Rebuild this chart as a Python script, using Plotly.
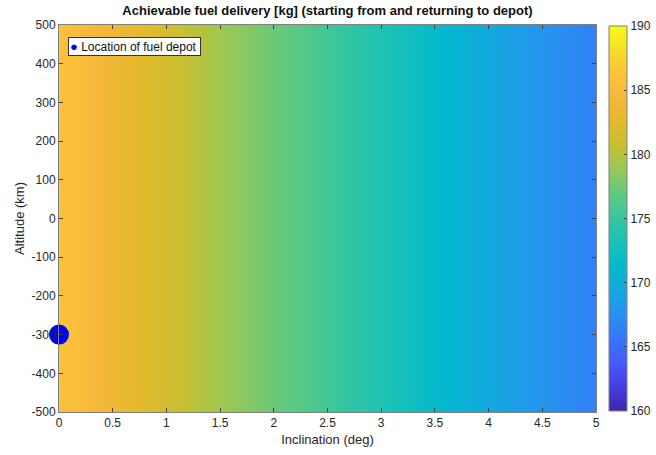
import plotly.graph_objects as go

# Data
inclination = [0, 0.25, 0.5, 0.75, 1.0, 1.25, 1.5, 1.75, 2.0, 2.25, 2.5,
               2.75, 3.0, 3.25, 3.5, 3.75, 4.0, 4.25, 4.5, 4.75, 5.0]
fuel_by_incl = [186.0, 185.0, 183.6, 182.5, 181.5, 180.3, 179.2, 178.2, 177.3, 176.4, 175.5,
                174.5, 173.5, 172.5, 171.5, 170.5, 169.5, 168.6, 167.7, 167.0, 166.4]
altitude = [-500, -250, 0, 250, 500]
depot_incl = [0]
depot_alt = [-300]
cb_ticks = [160, 165, 170, 175, 180, 185, 190]
alt_ticks = [-500, -400, -300, -200, -100, 0, 100, 200, 300, 400, 500]
incl_ticks = [0, 0.5, 1, 1.5, 2, 2.5, 3, 3.5, 4, 4.5, 5]

z = [list(fuel_by_incl) for _ in altitude]

parula = [
    [0.0, "rgb(62,38,168)"],
    [0.0625, "rgb(69,61,227)"],
    [0.125, "rgb(71,91,249)"],
    [0.1875, "rgb(55,118,252)"],
    [0.25, "rgb(40,145,238)"],
    [0.3125, "rgb(20,168,224)"],
    [0.375, "rgb(4,185,205)"],
    [0.4375, "rgb(25,193,183)"],
    [0.5, "rgb(55,198,158)"],
    [0.5625, "rgb(95,201,128)"],
    [0.625, "rgb(150,200,88)"],
    [0.6875, "rgb(196,192,50)"],
    [0.75, "rgb(228,186,45)"],
    [0.8125, "rgb(245,183,58)"],
    [0.875, "rgb(252,195,58)"],
    [0.9375, "rgb(245,222,38)"],
    [1.0, "rgb(249,251,20)"],
]

font_c = "#262626"
fam = "Liberation Sans, Arial"
fig = go.Figure()
fig.add_trace(go.Heatmap(
    x=inclination, y=altitude, z=z, zsmooth="best",
    colorscale=parula, zmin=160, zmax=190, showscale=True, showlegend=False,
    hoverinfo="skip",
    colorbar=dict(
        x=1.0235, xanchor="left", xpad=0, y=0.5, yanchor="middle", len=0.995,
        ypad=0, thickness=18, outlinecolor="#808080", outlinewidth=1,
        tickvals=cb_ticks, ticks="inside", ticklen=3, tickcolor="#404040",
        tickfont=dict(size=12, color=font_c, family=fam),
    ),
))
fig.add_trace(go.Scatter(
    x=depot_incl, y=depot_alt, mode="markers", name="Location of fuel depot",
    marker=dict(color="#0000FF", size=20), cliponaxis=False, showlegend=False,
))

# legend box (as annotation)
fig.add_annotation(
    x=0.0168, y=0.97, xref="paper", yref="paper", xanchor="left", yanchor="top",
    text="<span style='color:#0000FF;font-size:13px'>●</span> Location of fuel depot ",
    showarrow=False, bgcolor="white", bordercolor="#333333", borderwidth=1, borderpad=1,
    font=dict(size=12, color="#111111", family=fam), align="left",
)

fig.update_layout(
    width=656, height=455,
    margin=dict(l=59, r=60, t=25, b=43, autoexpand=False),
    paper_bgcolor="white", plot_bgcolor="white",
    font=dict(family=fam, size=12, color=font_c),
    title=dict(text="<b>Achievable fuel delivery [kg] (starting from and returning to depot)</b>",
               x=0.5, xref="paper", xanchor="center", y=1, yref="container", yanchor="top",
               pad=dict(t=6), font=dict(size=13, color="#111111")),
    showlegend=False,
)
fig.update_xaxes(
    range=[0, 5], tickvals=incl_ticks, ticktext=[f"{v:g}" for v in incl_ticks],
    ticks="inside", ticklen=4, tickcolor="#404040", showline=True, linecolor="#808080",
    linewidth=1, mirror="ticks", showgrid=False, zeroline=False,
    title=dict(text="Inclination (deg)", standoff=5, font=dict(size=13)),
)
fig.update_yaxes(
    range=[-500, 500], tickvals=alt_ticks, ticktext=[str(v) for v in alt_ticks],
    ticks="inside", ticklen=4, tickcolor="#404040", showline=True, linecolor="#808080",
    linewidth=1, mirror="ticks", showgrid=False, zeroline=False,
    title=dict(text="Altitude (km)", standoff=4, font=dict(size=13)),
)
fig.write_html("out.html")
